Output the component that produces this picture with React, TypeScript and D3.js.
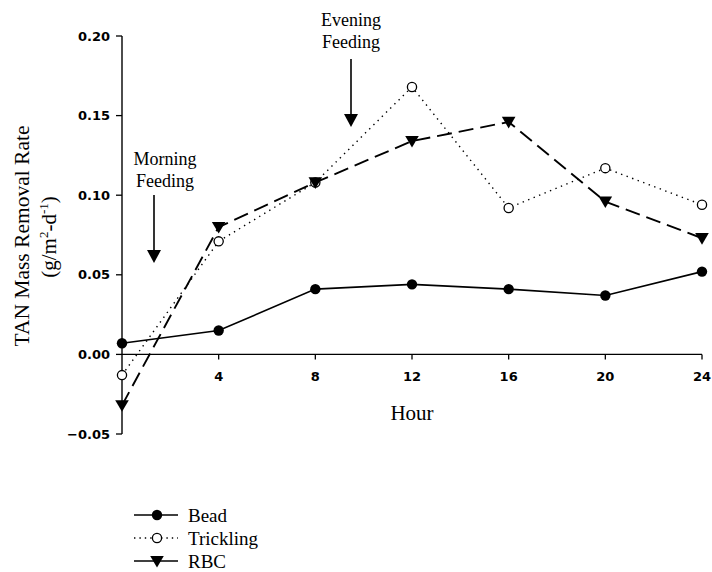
import React from "react";
import * as d3 from "d3";

const hours = [0, 4, 8, 12, 16, 20, 24];
const bead = [0.007, 0.015, 0.041, 0.044, 0.041, 0.037, 0.052];
const trickling = [-0.013, 0.071, 0.108, 0.168, 0.092, 0.117, 0.094];
const rbc = [-0.032, 0.080, 0.108, 0.134, 0.146, 0.096, 0.073];
const xTicks = [4, 8, 12, 16, 20, 24];
const yTicks = [-0.05, 0.0, 0.05, 0.1, 0.15, 0.2];
const seriesNames = ["Bead", "Trickling", "RBC"];

const W = 712, H = 572;
const x = d3.scaleLinear().domain([0, 24]).range([122, 702]);
const y = d3.scaleLinear().domain([-0.05, 0.2]).range([434, 36]);

const serif = "'Liberation Serif', 'Times New Roman', serif";
const sans = "'DejaVu Sans', Arial, sans-serif";

type Kind = "circle" | "open" | "tri";

function Marker({ cx, cy, kind }: { cx: number; cy: number; kind: Kind }) {
  if (kind === "circle") return <circle cx={cx} cy={cy} r={5.2} fill="#000" />;
  if (kind === "open") return <circle cx={cx} cy={cy} r={4.6} fill="#fff" stroke="#000" strokeWidth={1.3} />;
  const s = 6.8;
  return <path d={`M${cx - s},${cy - s * 0.75} L${cx + s},${cy - s * 0.75} L${cx},${cy + s * 0.95} Z`} fill="#000" />;
}

export default function App() {
  const line = d3.line<number>().x((_, i) => x(hours[i])).y((d) => y(d));
  const series: { name: string; vals: number[]; dash?: string; kind: Kind; w: number }[] = [
    { name: seriesNames[0], vals: bead, kind: "circle", w: 1.6 },
    { name: seriesNames[1], vals: trickling, dash: "1.4,4.5", kind: "open", w: 1.4 },
    { name: seriesNames[2], vals: rbc, dash: "15,7", kind: "tri", w: 1.9 },
  ];
  return (
    <svg width={W} height={H} style={{ position: "absolute", left: 0, top: 0, background: "#fff" }}>
      <rect width={W} height={H} fill="#fff" />
      {/* axes */}
      <line x1={x(0)} x2={x(0)} y1={y(0.2)} y2={y(-0.05)} stroke="#000" strokeWidth={1.4} />
      <line x1={x(0)} x2={x(24)} y1={y(0)} y2={y(0)} stroke="#000" strokeWidth={1.4} />
      {yTicks.map((t) => (
        <g key={t}>
          <line x1={x(0) - 6} x2={x(0)} y1={y(t)} y2={y(t)} stroke="#000" strokeWidth={1.3} />
          <text x={x(0) - 12} y={y(t)} dy="0.36em" textAnchor="end" fontFamily={sans} fontWeight="bold" fontSize={13}>
            {d3.format(".2f")(t)}
          </text>
        </g>
      ))}
      {xTicks.map((t) => (
        <g key={t}>
          <line x1={x(t)} x2={x(t)} y1={y(0)} y2={y(0) + 5} stroke="#000" strokeWidth={1.3} />
          <text x={x(t)} y={y(0) + 27} textAnchor="middle" fontFamily={sans} fontWeight="bold" fontSize={13}>
            {t}
          </text>
        </g>
      ))}
      <text x={412} y={420} textAnchor="middle" fontFamily={serif} fontSize={21}>Hour</text>
      <g transform="translate(29,236) rotate(-90)">
        <text x={0} y={0} textAnchor="middle" fontFamily={serif} fontSize={21.5}>TAN Mass Removal Rate</text>
      </g>
      <g transform="translate(56,237) rotate(-90)">
        <text x={0} y={0} textAnchor="middle" fontFamily={serif} fontSize={21}>
          (g/m<tspan dy="-8" fontSize={13}>2</tspan><tspan dy="8">-d</tspan><tspan dy="-8" fontSize={13}>-1</tspan><tspan dy="8">)</tspan>
        </text>
      </g>
      {/* series */}
      {series.map((s) => (
        <g key={s.name}>
          <path d={line(s.vals) || ""} fill="none" stroke="#000" strokeWidth={s.w} strokeDasharray={s.dash} />
          {s.vals.map((v, i) => (
            <Marker key={i} cx={x(hours[i])} cy={y(v)} kind={s.kind} />
          ))}
        </g>
      ))}
      {/* annotations */}
      <text x={165} y={165} textAnchor="middle" fontFamily={serif} fontSize={18}>Morning</text>
      <text x={165} y={187} textAnchor="middle" fontFamily={serif} fontSize={18}>Feeding</text>
      <line x1={154} x2={154} y1={195} y2={252} stroke="#000" strokeWidth={1.6} />
      <path d="M147,250 L161,250 L154,263 Z" fill="#000" />
      <text x={351} y={26} textAnchor="middle" fontFamily={serif} fontSize={18}>Evening</text>
      <text x={351} y={48} textAnchor="middle" fontFamily={serif} fontSize={18}>Feeding</text>
      <line x1={351} x2={351} y1={59} y2={116} stroke="#000" strokeWidth={1.6} />
      <path d="M344,114 L358,114 L351,127 Z" fill="#000" />
      {/* legend */}
      {series.map((s, i) => {
        const ly = 515 + i * 23;
        return (
          <g key={s.name}>
            <line x1={134} x2={178} y1={ly} y2={ly} stroke="#000" strokeWidth={s.kind === "open" ? 1.3 : 1.7} strokeDasharray={s.kind === "open" ? "1.4,4" : undefined} />
            <Marker cx={157} cy={ly} kind={s.kind} />
            <text x={188} y={ly} dy="0.35em" fontFamily={serif} fontSize={19}>{s.name}</text>
          </g>
        );
      })}
    </svg>
  );
}
